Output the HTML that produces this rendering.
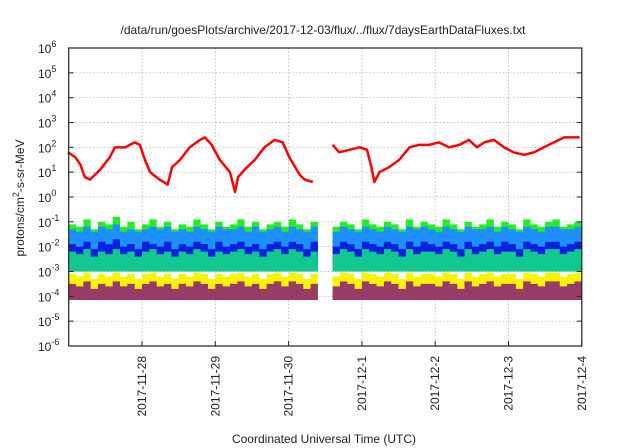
<!DOCTYPE html>
<html><head><meta charset="utf-8"><style>
html,body{margin:0;padding:0;background:#fff;width:640px;height:448px;overflow:hidden}
svg text{font-family:"Liberation Sans",sans-serif;fill:#222}
</style></head><body>
<svg id="chart" width="640" height="448" viewBox="0 0 640 448" xmlns="http://www.w3.org/2000/svg">
<text x="323" y="34" font-size="12" text-anchor="middle">/data/run/goesPlots/archive/2017-12-03/flux/../flux/7daysEarthDataFluxes.txt</text>
<g id="grid"></g>
<g id="series"></g>
<g id="axes"></g>
<text x="324" y="443" font-size="12" text-anchor="middle">Coordinated Universal Time (UTC)</text>
<text transform="translate(24,198) rotate(-90)" font-size="12" text-anchor="middle">protons/cm<tspan dy="-5" font-size="9">2</tspan><tspan dy="5">-s-sr-MeV</tspan></text>
</svg>
<script>
const xTickLabels=["2017-11-28","2017-11-29","2017-11-30","2017-12-1","2017-12-2","2017-12-3","2017-12-4"];
const yTickExps=[-6,-5,-4,-3,-2,-1,0,1,2,3,4,5,6];
const redDays=[-1.01,-0.91,-0.84,-0.78,-0.71,-0.64,-0.57,-0.44,-0.37,-0.23,-0.1,-0.03,0.04,0.11,0.24,0.35,0.41,0.52,0.65,0.79,0.86,0.95,1.06,1.2,1.27,1.31,1.4,1.54,1.67,1.81,1.92,2.01,2.15,2.22,2.33];
const redLog=[1.8,1.6,1.3,0.8,0.7,0.9,1.1,1.6,2.0,2.0,2.2,2.1,1.5,1.0,0.7,0.5,1.2,1.5,2.0,2.3,2.4,2.1,1.5,1.0,0.2,0.8,1.1,1.5,2.0,2.3,2.2,1.6,0.9,0.7,0.6];
const redDays2=[2.6,2.69,2.83,2.97,3.07,3.13,3.17,3.24,3.37,3.51,3.65,3.78,3.92,4.05,4.19,4.33,4.46,4.57,4.67,4.8,4.94,5.07,5.21,5.35,5.48,5.62,5.76,5.9,5.97];
const redLog2=[2.1,1.8,1.9,2.0,1.9,1.2,0.6,1.0,1.2,1.5,2.0,2.1,2.1,2.2,2.0,2.1,2.3,2.0,2.2,2.3,2.0,1.8,1.7,1.8,2.0,2.2,2.4,2.4,2.4];
const seg1Start=-1.0, seg2Start=2.6, sampleStep=0.1;
const greenTop=[-1.1,-1.2,-0.9,-1.3,-1.0,-1.1,-0.8,-1.2,-1.0,-1.3,-1.1,-0.9,-1.2,-1.0,-1.3,-1.1,-1.2,-0.9,-1.1,-1.3,-1.0,-1.2,-1.1,-0.9,-1.2,-1.0,-1.3,-1.1,-1.0,-1.2,-0.9,-1.1,-1.3,-1.0,-1.2,
 -1.2,-1.0,-1.1,-1.3,-0.9,-1.1,-1.2,-1.0,-1.1,-1.3,-0.9,-1.2,-1.0,-1.1,-1.2,-0.9,-1.1,-1.3,-1.0,-1.2,-1.1,-0.9,-1.2,-1.0,-1.1,-1.3,-0.9,-1.1,-1.2,-1.0,-0.9,-1.2,-1.1,-1.0,-1.2];
const lightBlueTop=[-1.3,-1.4,-1.2,-1.4,-1.2,-1.3,-1.1,-1.4,-1.3,-1.4,-1.3,-1.2,-1.3,-1.2,-1.4,-1.3,-1.4,-1.2,-1.3,-1.4,-1.2,-1.3,-1.3,-1.2,-1.4,-1.2,-1.4,-1.3,-1.2,-1.4,-1.2,-1.3,-1.4,-1.2,-1.3,
 -1.4,-1.2,-1.3,-1.4,-1.2,-1.3,-1.4,-1.2,-1.3,-1.4,-1.2,-1.3,-1.2,-1.3,-1.4,-1.2,-1.3,-1.4,-1.2,-1.3,-1.3,-1.2,-1.4,-1.2,-1.3,-1.4,-1.2,-1.3,-1.4,-1.2,-1.2,-1.3,-1.3,-1.2,-1.3];
const blueTop=[-1.9,-2.0,-1.8,-2.1,-1.8,-1.9,-1.7,-2.0,-1.9,-2.1,-1.8,-1.9,-2.0,-1.8,-2.1,-1.9,-2.0,-1.8,-1.9,-2.1,-1.8,-2.0,-1.9,-1.8,-2.0,-1.9,-2.1,-1.9,-1.8,-2.0,-1.8,-1.9,-2.1,-1.8,-2.0,
 -2.0,-1.8,-1.9,-2.1,-1.8,-1.9,-2.0,-1.8,-1.9,-2.1,-1.8,-2.0,-1.8,-1.9,-2.0,-1.8,-1.9,-2.1,-1.8,-2.0,-1.9,-1.8,-2.0,-1.8,-1.9,-2.1,-1.8,-1.9,-2.0,-1.8,-1.8,-2.0,-1.9,-1.8,-2.0];
const tealTop=[-2.2,-2.3,-2.1,-2.4,-2.2,-2.3,-2.1,-2.3,-2.2,-2.4,-2.2,-2.1,-2.3,-2.2,-2.4,-2.2,-2.3,-2.1,-2.2,-2.4,-2.2,-2.3,-2.2,-2.1,-2.3,-2.2,-2.4,-2.2,-2.1,-2.3,-2.1,-2.2,-2.4,-2.2,-2.3,
 -2.3,-2.1,-2.2,-2.4,-2.1,-2.2,-2.3,-2.1,-2.2,-2.4,-2.1,-2.3,-2.2,-2.2,-2.3,-2.1,-2.2,-2.4,-2.1,-2.3,-2.2,-2.1,-2.3,-2.2,-2.2,-2.4,-2.1,-2.2,-2.3,-2.1,-2.1,-2.3,-2.2,-2.1,-2.3];
const yellowTop=[-3.1,-3.2,-3.05,-3.3,-3.1,-3.2,-3.05,-3.2,-3.1,-3.3,-3.1,-3.05,-3.2,-3.1,-3.3,-3.1,-3.2,-3.05,-3.1,-3.3,-3.1,-3.2,-3.1,-3.05,-3.2,-3.1,-3.3,-3.1,-3.05,-3.2,-3.05,-3.1,-3.3,-3.1,-3.2,
 -3.2,-3.05,-3.1,-3.3,-3.05,-3.1,-3.2,-3.05,-3.1,-3.3,-3.05,-3.2,-3.1,-3.1,-3.2,-3.05,-3.1,-3.3,-3.05,-3.2,-3.1,-3.05,-3.2,-3.1,-3.1,-3.3,-3.05,-3.1,-3.2,-3.05,-3.05,-3.2,-3.1,-3.05,-3.2];
const maroonTop=[-3.5,-3.6,-3.4,-3.7,-3.5,-3.6,-3.4,-3.6,-3.5,-3.7,-3.5,-3.4,-3.6,-3.5,-3.7,-3.5,-3.6,-3.4,-3.5,-3.7,-3.5,-3.6,-3.5,-3.4,-3.6,-3.5,-3.7,-3.5,-3.4,-3.6,-3.4,-3.5,-3.7,-3.5,-3.6,
 -3.6,-3.4,-3.5,-3.7,-3.4,-3.5,-3.6,-3.4,-3.5,-3.7,-3.4,-3.6,-3.5,-3.5,-3.6,-3.4,-3.5,-3.7,-3.4,-3.6,-3.5,-3.4,-3.6,-3.5,-3.5,-3.7,-3.4,-3.5,-3.6,-3.4,-3.4,-3.6,-3.5,-3.4,-3.6];
const seriesBottoms=[-3.0,-2.2,-2.7,-3.0,-3.75,-4.15];

const NS="http://www.w3.org/2000/svg";
const L=68.7,R=581.8,T=48,B=346;
const xS=d=>L+(d-(-1.0))*(R-L)/7.0;
const yS=e=>B-(e-(-6))*(B-T)/12;
function mk(tag,attrs,parent){const el=document.createElementNS(NS,tag);for(const k in attrs)el.setAttribute(k,attrs[k]);parent.appendChild(el);return el;}
const grid=document.getElementById('grid'),axes=document.getElementById('axes'),ser=document.getElementById('series');
yTickExps.forEach(e=>{
  const y=yS(e);
  if(e>-6&&e<6){const g=mk('line',{x1:L,x2:R,y1:y,y2:y,stroke:'#aaa','stroke-width':0.7,'stroke-dasharray':'1.5,2'},grid);
  
  }
  const t=mk('line',{x1:L,x2:L+5,y1:y,y2:y,stroke:'#222'},axes);
  
  
  const t2=mk('line',{x1:R-5,x2:R,y1:y,y2:y,stroke:'#222'},axes);
  
  
  const tx=mk('text',{x:38,y:y+5,'font-size':12,'text-anchor':'start'},axes);
  
  
  tx.textContent='10';
  const sp=mk('tspan',{dy:-6,'font-size':9},tx);sp.textContent=String(e);
});
xTickLabels.forEach((lab,i)=>{
  const x=xS(i);
  if(i<6){const g=mk('line',{x1:x,x2:x,y1:T,y2:B,stroke:'#aaa','stroke-width':0.7,'stroke-dasharray':'1.5,2'},grid);
  
  }
  const t=mk('line',{x1:x,x2:x,y1:B,y2:B-5,stroke:'#222'},axes);
  
  
  const tx=mk('text',{transform:`translate(${x+4},${B+10}) rotate(-90)`,'font-size':12,'text-anchor':'end'},axes);
  
  
  tx.textContent=lab;
});
const fr=mk('rect',{x:L,y:T,width:R-L,height:B-T,fill:'none',stroke:'#222','stroke-width':1.2},axes);



const bandDefs=[[greenTop,'#22ee22','green-channel'],[lightBlueTop,'#1e8fff','light-blue-channel'],[blueTop,'#0a22e0','blue-channel'],[tealTop,'#10c890','teal-channel'],[yellowTop,'#f5f500','yellow-channel'],[maroonTop,'#9a3a66','maroon-channel']];
const n1=35;
bandDefs.forEach(([tops,col,name],si)=>{
  [[0,n1,seg1Start],[n1,tops.length,seg2Start]].forEach(([a,b,st])=>{
    let up=[],lo=[];
    const dEnd=st===seg1Start?2.4:6.0;
    for(let i=a;i<b;i++){const d0=st+(i-a)*sampleStep,d1=Math.min(d0+sampleStep,dEnd);
      up.push(`${xS(d0)},${yS(tops[i])}`,`${xS(d1)},${yS(tops[i])}`);}
    lo.push(`${xS(dEnd)},${yS(seriesBottoms[si])}`,`${xS(st)},${yS(seriesBottoms[si])}`);
    const p=mk('polygon',{points:up.concat(lo).join(' '),fill:col},ser);
    
    
  });
});
[[redDays,redLog],[redDays2,redLog2]].forEach(([ds,vs])=>{
  const p=mk('polyline',{points:ds.map((d,i)=>`${xS(d)},${yS(vs[i])}`).join(' '),fill:'none',stroke:'#f00','stroke-width':2.5,'stroke-linejoin':'round'},ser);
  
  
});
</script>
</body></html>
